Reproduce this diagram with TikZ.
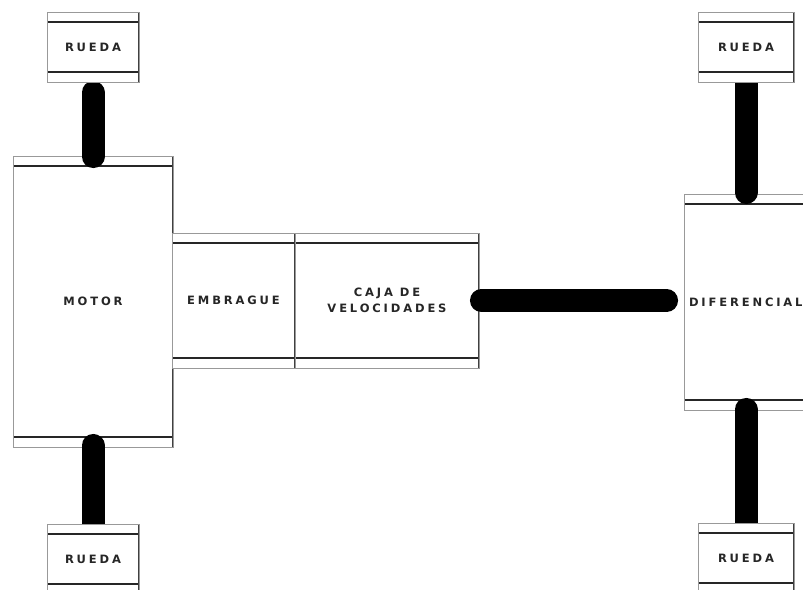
\documentclass[tikz,border=0pt]{standalone}
\usepackage{fontspec}
\newfontfamily\lblfont{DejaVu Sans}[LetterSpace=25]
\begin{document}
\pgfdeclarelayer{base}
\pgfdeclarelayer{axles}
\pgfsetlayers{base,axles,main}
\begin{tikzpicture}[x=1pt,y=-1pt,
  % a drive-train part: grey outline, inner rims near top and bottom
  part/.style={draw=black!40, line width=0.9pt, fill=white, inner sep=0pt,
    font=\lblfont\bfseries\fontsize{11.5}{16}\selectfont, text=black!85, align=center,
    path picture={
      \draw[black!85, line width=1.2pt]
        ([yshift=-10pt]path picture bounding box.north west) -- ([yshift=-10pt]path picture bounding box.north east)
        ([yshift=10pt]path picture bounding box.south west) -- ([yshift=10pt]path picture bounding box.south east);
      \draw[black!75, line width=1.6pt]
        (path picture bounding box.north west) -- (path picture bounding box.south west)
        (path picture bounding box.north east) -- (path picture bounding box.south east);
    }},
  wheel/.style={part, minimum width=92pt, minimum height=70pt},
  shaft/.style={line width=23pt, line cap=round, black}
]
\useasboundingbox (0,0) rectangle (803,589);

\begin{pgfonlayer}{base}
  \node[part, minimum width=160pt, minimum height=291pt] (motor) at (93,301.5) {MOTOR};
  \node[part, minimum width=123pt, minimum height=135pt] (embrague) at (233.5,300.5) {EMBRAGUE};
  \node[part, minimum width=184pt, minimum height=135pt] (caja) at (387,300.5) {CAJA DE\\VELOCIDADES};
  \node[part, minimum width=250pt, minimum height=216pt, inner xsep=5pt, text width=240pt, align=left] (dif) at (809,302) {DIFERENCIAL};
\end{pgfonlayer}

\node[wheel] (rtl) at (93,47) {RUEDA};
\node[wheel] (rbl) at (93,559) {RUEDA};
\node[wheel, minimum width=96pt] (rtr) at (746,47) {RUEDA};
\node[wheel, minimum width=96pt] (rbr) at (746,558) {RUEDA};

\begin{pgfonlayer}{axles}
  \draw[shaft, shorten <=10pt, shorten >=-1pt] (rtl.south) -- (motor.north);
  \draw[shaft, shorten <=-2pt, shorten >=-8pt] (motor.south) -- (rbl.north);
  \draw[shaft, shorten <=2pt, shorten >=17pt] (caja.east) -- (caja.east -| dif.west);
  \draw[shaft, shorten <=-8pt, shorten >=1pt] (rtr.south) -- (rtr.south |- dif.north);
  \draw[shaft, shorten <=-1pt, shorten >=-8pt] (rbr.north |- dif.south) -- (rbr.north);
\end{pgfonlayer}
\end{tikzpicture}
\end{document}
